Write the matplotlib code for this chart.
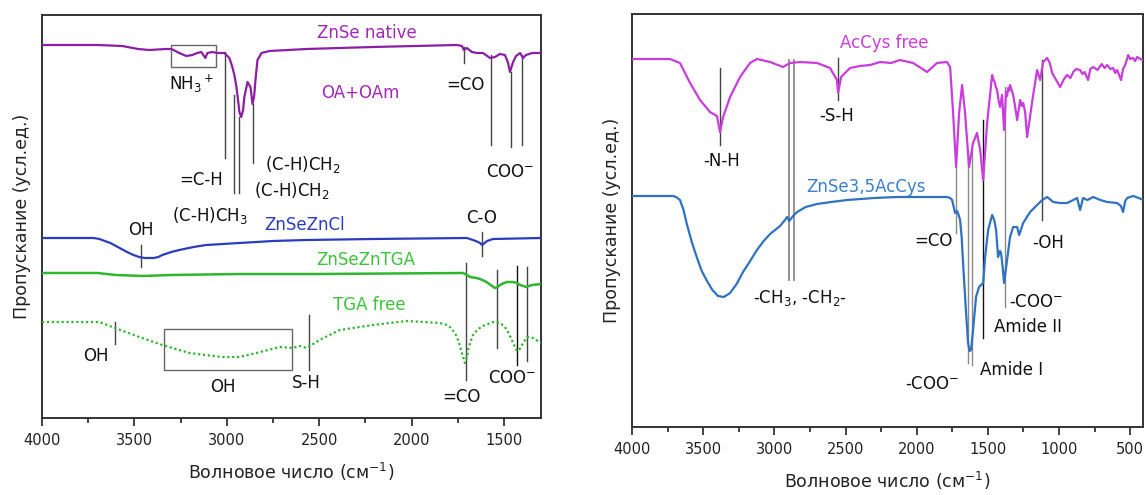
import numpy as np
import matplotlib
matplotlib.use("Agg")
import matplotlib.pyplot as plt
from matplotlib.patches import Rectangle
from matplotlib.ticker import MultipleLocator

plt.rcParams['font.family'] = ['DejaVu Sans']
plt.rcParams['mathtext.default'] = 'regular'

# ---------------- Left panel: ZnSe nanocrystals, TGA (arb. units) ----------------
native_wn = [4000, 3700, 3566, 3480, 3420, 3330, 3300, 3257, 3219, 3187, 3160, 3138,
             3116, 3105, 3078, 3051, 3013, 2986, 2970, 2958, 2948, 2938, 2932, 2922,
             2912, 2905, 2888, 2872, 2861, 2852, 2845, 2834, 2812, 2769, 2568, 2210,
             1755, 1728, 1717, 1701, 1674, 1647, 1614, 1576, 1549, 1522, 1495, 1478,
             1468, 1451, 1435, 1413, 1397, 1381, 1348, 1321, 1300]
native_t = [373, 373, 372, 369, 368, 369, 369, 365, 362, 363, 365, 366,
            360, 365, 366, 365, 365, 360, 351, 342, 331, 316, 306, 301,
            308, 321, 336, 331, 314, 322, 338, 358, 365, 367, 369, 371,
            373, 372, 368, 370, 366, 365, 365, 360, 361, 364, 363, 355,
            346, 356, 362, 365, 360, 363, 365, 365, 365]

zncl_wn = [4000, 3720, 3690, 3660, 3630, 3600, 3570, 3540, 3505, 3474, 3445, 3420,
           3395, 3370, 3349, 3300, 3257, 3180, 3111, 2932, 2750, 2568, 2210, 1701,
           1668, 1640, 1630, 1619, 1605, 1592, 1560, 1300]
zncl_t = [180, 180, 179, 177, 175, 172, 169, 166, 163, 161, 160, 160,
          160, 161, 163, 166, 168, 171, 173, 175, 177, 178, 179, 180,
          178, 176, 175, 173, 175, 177, 179, 180]

zntga_wn = [4000, 3700, 3600, 3450, 3300, 2932, 2500, 1722, 1700, 1684, 1650, 1630,
            1605, 1587, 1565, 1549, 1535, 1522, 1500, 1484, 1451, 1430, 1413, 1395,
            1381, 1365, 1348, 1300]
zntga_t = [145, 145, 143, 142, 143, 144, 144, 145, 143, 141, 140, 139,
           137, 135, 132, 130, 131, 133, 135, 136, 136, 135, 133, 132,
           131, 132, 133, 134]

tga_wn = [4000, 3690, 3620, 3474, 3349, 3203, 3024, 2932, 2840, 2715, 2644, 2606,
          2568, 2498, 2389, 2210, 2026, 1847, 1810, 1793, 1770, 1755, 1740, 1728,
          1712, 1700, 1695, 1680, 1668, 1640, 1614, 1560, 1522, 1500, 1484, 1465,
          1451, 1430, 1415, 1403, 1375, 1343, 1300]
tga_t = [96, 96, 91, 81, 73, 65, 61, 61, 65, 71, 70, 72,
         70, 78, 88, 93, 97, 95, 93, 91, 86, 81, 73, 65,
         55, 61, 68, 77, 83, 89, 92, 96, 95, 92, 88, 81,
         75, 67, 69, 73, 81, 80, 75]

# ---------------- Right panel: N-acetylcysteine systems (arb. units) ----------------
accys_wn = [4000, 3733, 3663, 3592, 3522, 3452, 3403, 3382, 3360, 3311, 3241, 3171,
            3122, 3030, 2939, 2890, 2819, 2700, 2609, 2560, 2552, 2531, 2468, 2400,
            2327, 2257, 2180, 2117, 2025, 1927, 1857, 1787, 1765, 1744, 1723, 1702,
            1681, 1660, 1632, 1604, 1576, 1554, 1533, 1505, 1470, 1460, 1452, 1444,
            1435, 1424, 1414, 1400, 1386, 1372, 1365, 1358, 1351, 1344, 1333, 1322,
            1308, 1294, 1273, 1262, 1252, 1238, 1224, 1189, 1154, 1133, 1111, 1083,
            1065, 1048, 1020, 992, 965, 943, 920, 900, 880, 852, 835, 820,
            796, 780, 760, 730, 700, 680, 662, 640, 620, 605, 592, 564,
            550, 535, 514, 500, 480, 465, 451, 430, 409]
accys_t = [368, 368, 364, 344, 327, 315, 311, 295, 310, 330, 350, 364,
           368, 365, 360, 364, 365, 364, 359, 347, 334, 350, 359, 361,
           362, 365, 364, 367, 364, 355, 364, 365, 360, 314, 260, 314,
           342, 314, 260, 284, 294, 277, 247, 304, 352, 347, 345, 340,
           337, 326, 320, 332, 297, 335, 331, 339, 336, 342, 337, 332,
           320, 307, 327, 321, 324, 315, 290, 325, 357, 347, 365, 369,
           364, 354, 347, 340, 348, 352, 349, 355, 358, 357, 353, 355,
           347, 358, 360, 357, 363, 359, 362, 358, 359, 354, 357, 347,
           358, 362, 372, 368, 369, 366, 370, 368, 367]

znac_wn = [4000, 3712, 3690, 3663, 3640, 3613, 3580, 3543, 3510, 3473, 3435, 3396,
           3355, 3311, 3265, 3220, 3170, 3122, 3075, 3030, 2960, 2925, 2910, 2896,
           2868, 2840, 2780, 2700, 2600, 2489, 2300, 2138, 1787, 1765, 1751, 1730,
           1716, 1705, 1695, 1684, 1674, 1653, 1639, 1628, 1618, 1604, 1583, 1562,
           1533, 1519, 1498, 1470, 1455, 1442, 1428, 1415, 1407, 1396, 1386, 1365,
           1344, 1322, 1294, 1280, 1252, 1203, 1154, 1118, 1083, 1041, 992, 943,
           900, 873, 852, 831, 800, 760, 710, 662, 592, 565, 550, 535,
           521, 479, 440, 409]
znac_t = [231, 231, 230, 227, 218, 202, 185, 169, 156, 146, 137, 131,
          130, 134, 143, 155, 166, 177, 186, 193, 201, 207, 210, 206,
          211, 215, 220, 223, 225, 227, 229, 230, 230, 229, 227, 214,
          216, 212, 207, 190, 164, 114, 84, 76, 77, 97, 130, 140,
          144, 170, 197, 212, 207, 197, 170, 176, 174, 160, 144, 167,
          190, 200, 200, 192, 204, 215, 222, 227, 230, 225, 224, 224,
          227, 229, 217, 229, 227, 230, 227, 225, 224, 221, 215, 226,
          229, 231, 229, 227]

x_ticks = [4000, 3500, 3000, 2500, 2000, 1500, 1000, 500]

C_NATIVE = '#8a1fa6'
C_NATIVE_TXT = '#a127b8'
C_ZNCL = '#2b3cc0'
C_GREEN = '#2fb52f'
C_GREEN_TXT = '#3cc23c'
C_ACCYS = '#c83ddc'
C_ZNAC = '#2f72c0'
C_ZNAC_TXT = '#3a80cc'
C_MARK = '#444444'
C_MARK_LIGHT = '#8a8a8a'

fig = plt.figure(figsize=(11.46, 4.95), dpi=100)
axL = fig.add_axes([0.03665, 0.15556, 0.43543, 0.81414])
axR = fig.add_axes([0.55148, 0.13737, 0.44590, 0.83434])

FS_TXT = 12
FS_TICK = 10.5
FS_LAB = 12.5


def style_axis(ax, xmin, xmax, ymax):
    ax.set_xlim(xmin, xmax)
    ax.set_ylim(0, ymax)
    ax.set_yticks([])
    ax.set_xticks([t for t in x_ticks if xmax <= t <= xmin])
    ax.xaxis.set_minor_locator(MultipleLocator(250))
    ax.tick_params(axis='x', which='major', length=6, width=1.2, direction='out',
                   labelsize=FS_TICK, pad=5, colors='#222222')
    ax.tick_params(axis='x', which='minor', length=3.5, width=1.2, direction='out',
                   colors='#222222')
    for sp in ax.spines.values():
        sp.set_linewidth(1.4)
        sp.set_color('#333333')
    ax.set_xlabel('Волновое число (см$^{-1}$)', fontsize=FS_LAB, labelpad=9,
                  color='#222222')
    ax.set_ylabel('Пропускание (усл.ед.)', fontsize=FS_LAB, labelpad=8,
                  color='#222222')


def vline(ax, x, y0, y1, color=C_MARK, lw=1.0):
    ax.plot([x, x], [y0, y1], color=color, lw=lw, zorder=1)


def label(ax, x, y, s, color='#111111', fs=FS_TXT):
    ax.text(x, y, s, color=color, fontsize=fs, ha='center', va='center')


# ---------------- left panel ----------------
style_axis(axL, 4000, 1300, 403)
axL.plot(native_wn, native_t, color=C_NATIVE, lw=1.6, zorder=3)
axL.plot(zncl_wn, zncl_t, color=C_ZNCL, lw=1.6, zorder=3)
axL.plot(zntga_wn, zntga_t, color=C_GREEN, lw=1.8, zorder=3)
axL.plot(tga_wn, tga_t, color=C_GREEN, lw=1.6, linestyle=(0, (1, 1.2)), zorder=3)

# assignment markers
vline(axL, 3008, 366, 260)
vline(axL, 2959, 323, 225)
vline(axL, 2932, 301, 225)
vline(axL, 2856, 314, 255)
vline(axL, 1717, 371, 355)
vline(axL, 1571, 363, 273)
vline(axL, 1462, 346, 271)
vline(axL, 1403, 363, 273)
vline(axL, 3463, 173, 151)
vline(axL, 1619, 186, 162)
vline(axL, 3604, 96, 74)
vline(axL, 2557, 103, 48)
vline(axL, 1706, 155, 38)
vline(axL, 1538, 148, 70)
vline(axL, 1430, 152, 53, color='#111111')
vline(axL, 1375, 151, 57)
axL.add_patch(Rectangle((3300, 351), 3056 - 3300, 22, fill=False,
                        edgecolor='#666666', lw=1.0, zorder=2))
axL.add_patch(Rectangle((3338, 48), 2650 - 3338, 41, fill=False,
                        edgecolor='#666666', lw=1.0, zorder=2))

label(axL, 2243, 385, 'ZnSe native', C_NATIVE_TXT)
label(axL, 2276, 325, 'OA+OAm', C_NATIVE_TXT)
label(axL, 3192, 334, 'NH$_3$$^+$')
label(axL, 1710, 333, '=CO')
label(axL, 1468, 246, 'COO$^{-}$')
label(axL, 3138, 238, '=C-H')
label(axL, 2590, 253, '(C-H)CH$_2$')
label(axL, 2650, 227, '(C-H)CH$_2$')
label(axL, 3094, 202, '(C-H)CH$_3$')
label(axL, 2579, 193, 'ZnSeZnCl', C_ZNCL)
label(axL, 3463, 188, 'OH')
label(axL, 1619, 200, 'C-O')
label(axL, 2248, 158, 'ZnSeZnTGA', C_GREEN_TXT)
label(axL, 2227, 113, 'TGA free', C_GREEN_TXT)
label(axL, 3707, 62, 'OH')
label(axL, 3024, 31, 'OH')
label(axL, 2568, 35, 'S-H')
label(axL, 1728, 21, '=CO')
label(axL, 1457, 40, 'COO$^{-}$')

# ---------------- right panel ----------------
style_axis(axR, 4000, 410, 413)
axR.plot(accys_wn, accys_t, color=C_ACCYS, lw=1.6, zorder=3)
axR.plot(znac_wn, znac_t, color=C_ZNAC, lw=1.6, zorder=3)

vline(axR, 3382, 359, 282)
vline(axR, 2552, 369, 327)
vline(axR, 2897, 367, 147, color=C_MARK_LIGHT, lw=1.3)
vline(axR, 2862, 367, 147, color=C_MARK_LIGHT, lw=1.3)
vline(axR, 1723, 260, 194, color=C_MARK_LIGHT)
vline(axR, 1639, 277, 64, color=C_MARK_LIGHT)
vline(axR, 1611, 284, 62, color=C_MARK_LIGHT)
vline(axR, 1533, 307, 89, color='#111111')
vline(axR, 1379, 340, 120, color=C_MARK_LIGHT)
vline(axR, 1118, 367, 207)

label(axR, 2229, 384, 'AcCys free', C_ACCYS)
label(axR, 2356, 240, 'ZnSe3,5AcCys', C_ZNAC_TXT)
label(axR, 3368, 266, '-N-H')
label(axR, 2559, 311, '-S-H')
label(axR, 2819, 129, '-CH$_3$, -CH$_2$-')
label(axR, 1885, 186, '=CO')
label(axR, 1077, 184, '-OH')
label(axR, 1161, 125, '-COO$^{-}$')
label(axR, 1217, 100, 'Amide II')
label(axR, 1330, 57, 'Amide I')
label(axR, 1892, 43, '-COO$^{-}$')

fig.savefig('out.png', dpi=100)
